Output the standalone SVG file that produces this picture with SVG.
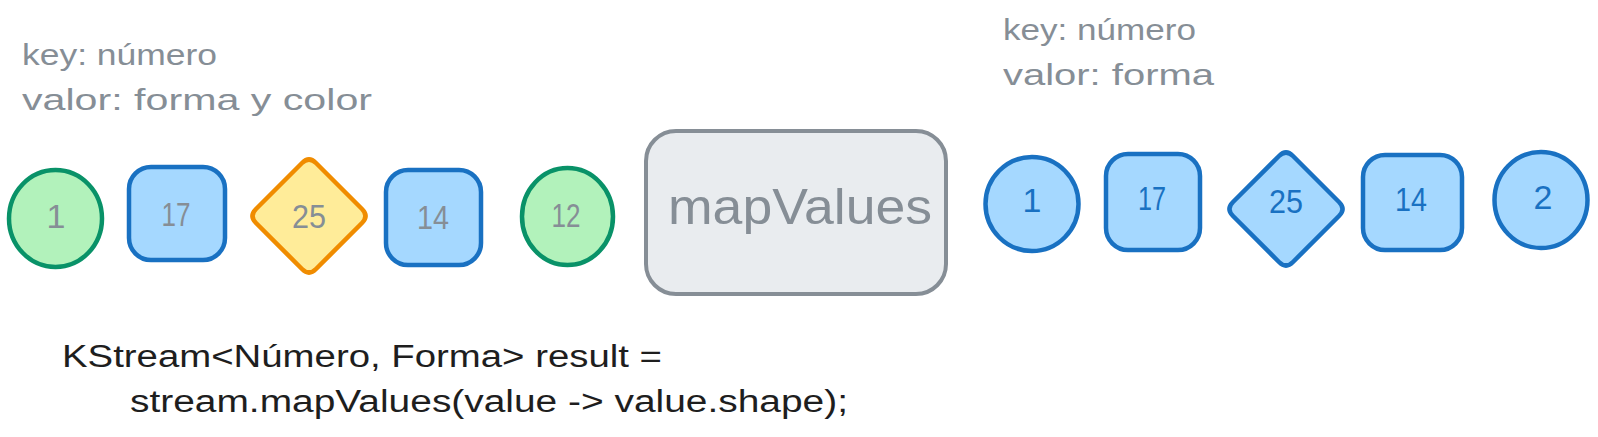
<svg xmlns="http://www.w3.org/2000/svg" width="1598" height="437" viewBox="0 0 1598 437">
<style>
.g{fill:#b2f2bb;stroke:#099268;stroke-width:4.5}
.b{fill:#a5d8ff;stroke:#1971c2;stroke-width:4.5}
.y{fill:#ffec99;stroke:#f08c00;stroke-width:4.5}
.m{fill:#e9ecef;stroke:#868e96;stroke-width:4}
text{font-family:"Liberation Sans",Arial,sans-serif}
.nl{font-size:34px;fill:#868e96;text-anchor:middle}
.nr{font-size:34px;fill:#1971c2;text-anchor:middle}
.lab{font-size:30px;fill:#868e96}
.code{font-size:31px;fill:#1e1e1e}
</style>
<rect width="1598" height="437" fill="#ffffff"/>
<g id="connectors"/>
<g id="label-left">
<text class="lab" x="22" y="65" textLength="195" lengthAdjust="spacingAndGlyphs">key: número</text>
<text class="lab" x="22" y="110" textLength="350" lengthAdjust="spacingAndGlyphs">valor: forma y color</text>
</g>
<g id="label-right">
<text class="lab" x="1003" y="40" textLength="193" lengthAdjust="spacingAndGlyphs">key: número</text>
<text class="lab" x="1003" y="85" textLength="211" lengthAdjust="spacingAndGlyphs">valor: forma</text>
</g>
<g id="in-1"><ellipse class="g" cx="55.5" cy="218.5" rx="46.5" ry="48.5"/><text class="nl" x="56" y="228">1</text></g>
<g id="in-17"><rect class="b" x="129" y="167" width="96" height="93" rx="22"/><text class="nl" x="176" y="226" textLength="29" lengthAdjust="spacingAndGlyphs">17</text></g>
<g id="in-25"><path class="y" d="M316,163 L362,209 Q369,216 362,223 L316,269 Q309,276 302,269 L256,223 Q249,216 256,209 L302,163 Q309,156 316,163 Z"/><text class="nl" x="309" y="228" textLength="34" lengthAdjust="spacingAndGlyphs">25</text></g>
<g id="in-14"><rect class="b" x="386" y="170" width="95" height="95" rx="22"/><text class="nl" x="433" y="229" textLength="32" lengthAdjust="spacingAndGlyphs">14</text></g>
<g id="in-12"><ellipse class="g" cx="567.5" cy="216.5" rx="45.5" ry="48.5"/><text class="nl" x="566" y="227" textLength="29" lengthAdjust="spacingAndGlyphs">12</text></g>
<g id="mapValues"><rect class="m" x="646" y="131" width="300" height="163" rx="30"/><text x="800" y="224" font-size="50" fill="#868e96" text-anchor="middle" textLength="264" lengthAdjust="spacingAndGlyphs">mapValues</text></g>
<g id="out-1"><ellipse class="b" cx="1032" cy="204" rx="46.5" ry="47"/><text class="nr" x="1032" y="212">1</text></g>
<g id="out-17"><rect class="b" x="1106" y="154" width="94" height="96" rx="22"/><text class="nr" x="1152" y="210" textLength="28" lengthAdjust="spacingAndGlyphs">17</text></g>
<g id="out-25"><path class="b" d="M1293,156 L1339,202 Q1346,209 1339,216 L1293,262 Q1286,269 1279,262 L1233,216 Q1226,209 1233,202 L1279,156 Q1286,149 1293,156 Z"/><text class="nr" x="1286" y="213" textLength="34" lengthAdjust="spacingAndGlyphs">25</text></g>
<g id="out-14"><rect class="b" x="1363" y="155" width="99" height="95" rx="22"/><text class="nr" x="1411" y="211" textLength="32" lengthAdjust="spacingAndGlyphs">14</text></g>
<g id="out-2"><ellipse class="b" cx="1541" cy="200" rx="46.5" ry="48"/><text class="nr" x="1543" y="209">2</text></g>
<g id="code">
<text class="code" x="62" y="367" textLength="600" lengthAdjust="spacingAndGlyphs">KStream&lt;Número, Forma&gt; result =</text>
<text class="code" x="130" y="412" textLength="718" lengthAdjust="spacingAndGlyphs">stream.mapValues(value -&gt; value.shape);</text>
</g>
</svg>
